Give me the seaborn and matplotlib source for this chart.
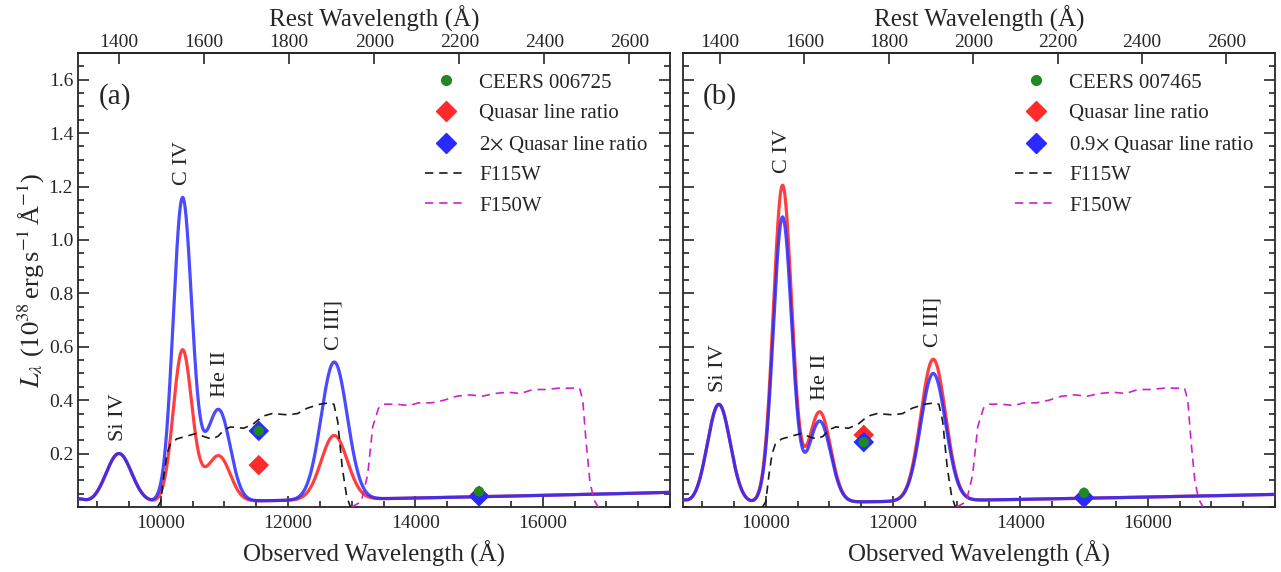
import numpy as np
import pandas as pd
import matplotlib
matplotlib.use("Agg")
import matplotlib.pyplot as plt
import seaborn as sns
from matplotlib.lines import Line2D
from matplotlib.ticker import MultipleLocator, NullLocator

# ---------------- data ----------------
# redshifts (from rest / observed axis alignment)
z_a = 5.677
z_b = 5.630

# emission-line components: O I, Si IV, C IV, 1600 bump, He II, C III]
comp_names = ["O I", "Si IV", "C IV", "bump", "He II", "C III]"]
cen_a = [8700, 9342, 10340, 10700, 10935, 12725]      # observed centre (A)
sig_a = [100, 200, 145, 200, 170, 205]                 # observed sigma (A)
amp_a_red = [0.016, 0.185, 0.56, 0.05, 0.144, 0.24]    # Quasar line ratio
amp_a_blue = [0.016, 0.185, 1.12, 0.10, 0.29, 0.515]   # 2x Quasar line ratio
cont_a = [0.025, 1.94]                                 # continuum at 12000 A, slope

cen_b = [8650, 9263, 10263, 10630, 10853, 12631]
sig_b = [100, 180, 145, 200, 170, 195]
amp_b_red = [0.015, 0.372, 1.184, 0.026, 0.325, 0.53]  # Quasar line ratio
amp_b_blue = [0.015, 0.372, 1.066, 0.023, 0.292, 0.477]  # 0.9x Quasar line ratio
cont_b = [0.021, 2.0]

label_names = ["Si IV", "C IV", "He II", "C III]"]
label_idx = [1, 2, 4, 5]

# photometry
phot_wave = [11540, 15000]
a_obs = [0.285, 0.058]
a_red = [0.157, 0.042]
a_blue = [0.285, 0.040]
b_obs = [0.243, 0.053]
b_red = [0.270, 0.035]
b_blue = [0.243, 0.035]

# filter curves (scaled, as drawn)
f115_wave = [9950, 10000, 10050, 10100, 10150, 10250, 10400, 10550, 10700, 10800,
             10900, 11000, 11100, 11300, 11450, 11600, 11750, 12000, 12150, 12300,
             12500, 12650, 12720, 12780, 12850, 12920, 12980]
f115_val = [0.0, 0.02, 0.12, 0.20, 0.235, 0.255, 0.265, 0.275, 0.262, 0.255,
            0.265, 0.29, 0.30, 0.295, 0.31, 0.34, 0.35, 0.345, 0.35, 0.37,
            0.385, 0.39, 0.385, 0.32, 0.15, 0.04, 0.0]
f150_wave = [13000, 13150, 13250, 13330, 13420, 13500, 13700, 13900, 14050, 14250,
             14450, 14650, 14850, 15050, 15250, 15450, 15650, 15850, 16050, 16250,
             16450, 16580, 16630, 16680, 16740, 16800, 16870]
f150_val = [0.0, 0.02, 0.12, 0.30, 0.37, 0.385, 0.385, 0.38, 0.39, 0.39,
            0.40, 0.415, 0.42, 0.415, 0.425, 0.43, 0.425, 0.44, 0.44, 0.445,
            0.445, 0.445, 0.40, 0.25, 0.10, 0.03, 0.0]

panel_tags = ["(a)", "(b)"]
obj_names = ["CEERS 006725", "CEERS 007465"]
blue_labels = [r"2$\times$ Quasar line ratio", r"0.9$\times$ Quasar line ratio"]

# ---------------- style ----------------
sns.set_theme(style="ticks")
plt.rcParams["font.family"] = ["Liberation Serif", "DejaVu Serif"]
plt.rcParams["mathtext.fontset"] = "stix"

RED = "#ff2a2a"
BLUE = "#2a2aff"
GREEN = "#1f8a1f"
MAG = "#cc22cc"

wave = np.arange(8700, 18001, 5.0)


def model(cen, sig, amp, cont):
    f = cont[0] * (wave / 12000.0) ** cont[1]
    for c, s, a in zip(cen, sig, amp):
        f = f + a * np.exp(-0.5 * ((wave - c) / s) ** 2)
    return f


fig, axes = plt.subplots(1, 2, figsize=(12.81, 5.72), dpi=100)
fig.subplots_adjust(left=0.0609, right=0.9953, bottom=0.1136, top=0.9073, wspace=0.022)

panels = [
    (z_a, cen_a, sig_a, amp_a_red, amp_a_blue, cont_a, a_obs, a_red, a_blue, 0.586),
    (z_b, cen_b, sig_b, amp_b_red, amp_b_blue, cont_b, b_obs, b_red, b_blue, 0.561),
]

for i, (ax, p) in enumerate(zip(axes, panels)):
    z, cen, sig, ar, ab, cont, pobs, pred, pblue, legx = p
    fr = model(cen, sig, ar, cont)
    fb = model(cen, sig, ab, cont)
    df = pd.DataFrame({"wave": wave, "red": fr, "blue": fb})
    sns.lineplot(data=df, x="wave", y="red", color=RED, lw=2.3, alpha=0.9,
                 estimator=None, ax=ax, zorder=3)
    sns.lineplot(data=df, x="wave", y="blue", color=BLUE, lw=2.3, alpha=0.85,
                 estimator=None, ax=ax, zorder=4)
    sns.lineplot(x=f115_wave, y=f115_val, color="k", lw=1.2, linestyle=(0, (5, 3.5)),
                 estimator=None, ax=ax, zorder=5)
    sns.lineplot(x=f150_wave, y=f150_val, color=MAG, lw=1.2, linestyle=(0, (5, 3.5)),
                 estimator=None, ax=ax, zorder=5)

    sns.scatterplot(x=phot_wave, y=pred, marker="D", s=110, color=RED,
                    edgecolor="none", ax=ax, zorder=6)
    sns.scatterplot(x=phot_wave, y=pblue, marker="D", s=110, color=BLUE,
                    edgecolor="none", ax=ax, zorder=7)
    sns.scatterplot(x=phot_wave, y=pobs, marker="o", s=55, color=GREEN,
                    edgecolor="none", ax=ax, zorder=8)

    # line labels above peaks
    for name, k in zip(label_names, label_idx):
        c = cen[k]
        m = (wave > c - 80) & (wave < c + 80)
        top = max(fr[m].max(), fb[m].max())
        ax.text(c, top + 0.045, name, rotation=90, ha="center", va="bottom",
                fontsize=16)

    ax.text(0.062, 0.905, panel_tags[i], transform=ax.transAxes, fontsize=21,
            ha="center", va="center")

    ax.set_xlim(8700, 18000)
    ax.set_ylim(0, 1.7)
    ax.xaxis.set_minor_locator(MultipleLocator(500))
    ax.set_xticks([10000, 12000, 14000, 16000])
    ax.set_yticks([0.2, 0.4, 0.6, 0.8, 1.0, 1.2, 1.4, 1.6])
    ax.yaxis.set_minor_locator(MultipleLocator(0.05))
    ax.tick_params(which="both", direction="in", top=False, right=True,
                   labelsize=14, width=1.2)
    ax.tick_params(which="major", length=8)
    ax.tick_params(which="minor", length=4)
    ax.tick_params(axis="x", which="major", pad=6)
    for sp in ax.spines.values():
        sp.set_linewidth(1.3)
    ax.set_xlabel("Observed Wavelength (Å)", fontsize=18, labelpad=6)
    if i == 0:
        ax.set_ylabel(r"$L_\lambda$ ($10^{38}\,$erg$\,$s$^{-1}\,$Å$^{-1}$)",
                      fontsize=19, labelpad=1)
    else:
        ax.set_ylabel("")
        ax.tick_params(labelleft=False)

    sec = ax.secondary_xaxis("top", functions=(lambda x, zz=z: x / (1 + zz),
                                               lambda x, zz=z: x * (1 + zz)))
    sec.set_xticks(np.arange(1400, 2601, 200))
    sec.xaxis.set_minor_locator(NullLocator())
    sec.tick_params(direction="in", length=8, width=1.2, labelsize=14, pad=1.5)
    sec.set_xlabel("Rest Wavelength (Å)", fontsize=18, labelpad=5)

    handles = [
        Line2D([], [], marker="o", ls="none", color=GREEN, markersize=7),
        Line2D([], [], marker="D", ls="none", color=RED, markersize=10),
        Line2D([], [], marker="D", ls="none", color=BLUE, markersize=10),
        Line2D([], [], color="k", lw=1.2, ls=(0, (5, 3.5))),
        Line2D([], [], color=MAG, lw=1.2, ls=(0, (5, 3.5))),
    ]
    labels = [obj_names[i], "Quasar line ratio", blue_labels[i], "F115W", "F150W"]
    ax.legend(handles, labels, loc="upper left", bbox_to_anchor=(legx, 0.956),
              frameon=False, fontsize=15, handlelength=2.0, handletextpad=0.6,
              labelspacing=0.52, borderpad=0, borderaxespad=0)

fig.savefig("out.png", dpi=100)
